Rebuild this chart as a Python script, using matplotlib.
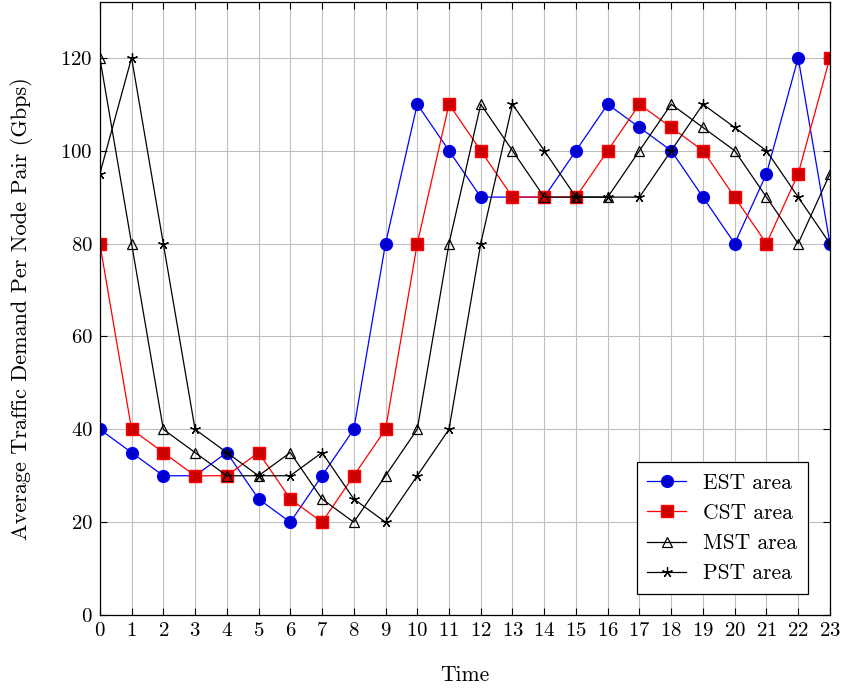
import matplotlib
matplotlib.use("Agg")
import matplotlib.pyplot as plt

plt.rcParams['font.family'] = ['cmr10', 'DejaVu Serif']
plt.rcParams['axes.formatter.use_mathtext'] = True
plt.rcParams['mathtext.fontset'] = 'cm'

hours = list(range(24))
est = [40, 35, 30, 30, 35, 25, 20, 30, 40, 80, 110, 100, 90, 90, 90, 100, 110, 105, 100, 90, 80, 95, 120, 80]
cst = [80, 40, 35, 30, 30, 35, 25, 20, 30, 40, 80, 110, 100, 90, 90, 90, 100, 110, 105, 100, 90, 80, 95, 120]
mst = [120, 80, 40, 35, 30, 30, 35, 25, 20, 30, 40, 80, 110, 100, 90, 90, 90, 100, 110, 105, 100, 90, 80, 95]
pst = [95, 120, 80, 40, 35, 30, 30, 35, 25, 20, 30, 40, 80, 110, 100, 90, 90, 90, 100, 110, 105, 100, 90, 80]
yticks = [0, 20, 40, 60, 80, 100, 120]

fig = plt.figure(figsize=(8.46, 6.88), dpi=100)
ax = fig.add_axes([0.118, 0.106, 0.863, 0.891])

ax.plot(hours, est, color='blue', lw=0.9, marker='o', ms=8.5, mfc='#0000cc', mec='blue', label='EST area')
ax.plot(hours, cst, color='red', lw=0.9, marker='s', ms=8, mfc='#cc0000', mec='red', label='CST area')
ax.plot(hours, mst, color='black', lw=0.9, marker='^', ms=7, mfc='none', mec='black', mew=0.9, label='MST area')
ax.plot(hours, pst, color='black', lw=0.9, marker=(5, 2, 0), ms=7.5, mec='black', mew=0.9, label='PST area')

ax.set_xlim(0, 23)
ax.set_ylim(0, 132)
ax.set_xticks(hours)
ax.set_yticks(yticks)
ax.grid(True, color='#bfbfbf', lw=0.8)
ax.set_axisbelow(True)
ax.tick_params(direction='in', length=5, labelsize=15, pad=5, top=True, right=True, labeltop=False, labelright=False)
for s in ax.spines.values():
    s.set_linewidth(0.9)
ax.set_xlabel('Time', fontsize=15.5, labelpad=18)
ax.set_ylabel('Average Traffic Demand Per Node Pair (Gbps)', fontsize=16, labelpad=20)

leg = ax.legend(loc='lower right', bbox_to_anchor=(0.97, 0.034), borderaxespad=0, fontsize=15.5, fancybox=False,
                edgecolor='black', framealpha=1, borderpad=0.5, handlelength=1.8, labelspacing=0.5)
leg.get_frame().set_linewidth(0.9)

fig.savefig('out.png', dpi=100)
